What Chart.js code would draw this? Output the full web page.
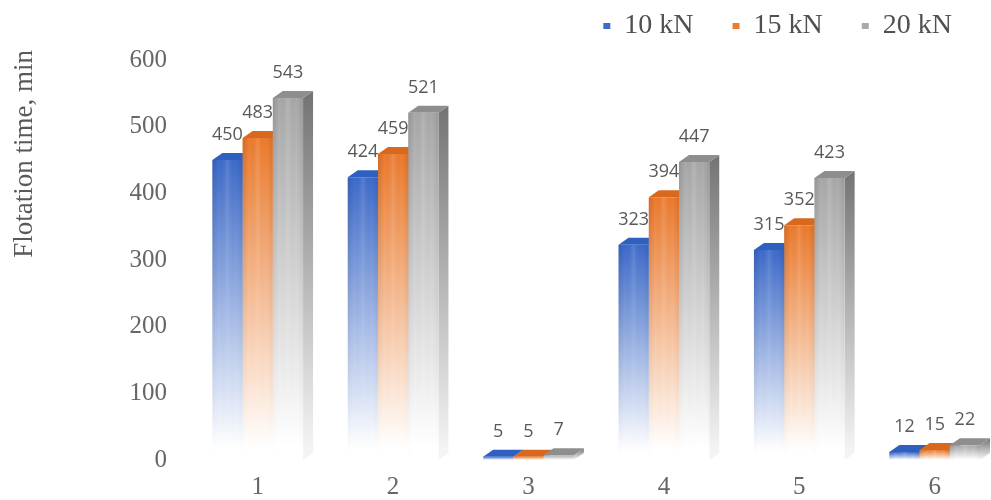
<!DOCTYPE html>
<html>
<head>
<meta charset="utf-8">
<script src="https://cdn.jsdelivr.net/npm/chart.js@4"></script>
<style>
  html, body { margin: 0; padding: 0; background: #ffffff; overflow: hidden; }
</style>
</head>
<body>
<canvas id="chart" width="991" height="500"></canvas>
<script>
// Flotation time per sample for three loads
const categories = [1, 2, 3, 4, 5, 6];
const seriesNames = ['10 kN', '15 kN', '20 kN'];
const load10kN = [450, 424, 5, 323, 315, 12];
const load15kN = [483, 459, 5, 394, 352, 15];
const load20kN = [543, 521, 7, 447, 423, 22];
const yTicks = [0, 100, 200, 300, 400, 500, 600];

// Face colours for the 3D columns
const palettes = [
  { front: '#3d6bcb', side: '#2a4f99', top: '#3060bf', legend: '#4a74c8' },
  { front: '#ee7b2c', side: '#b5561a', top: '#d9681f', legend: '#ef8a48' },
  { front: '#a9a9a9', side: '#737373', top: '#8e8e8e', legend: '#b0b0b0' }
];
const DEPTH_X = 10;
const DEPTH_Y = 7;

function frontFill(pal) {
  return (ctx) => {
    if (ctx.type !== 'data') return pal.legend;
    const chart = ctx.chart;
    const ys = chart.scales.y;
    if (!ys || !chart.chartArea) return pal.front;
    const top = ys.getPixelForValue(ctx.raw.y);
    const base = ys.getPixelForValue(0);
    const g = chart.ctx.createLinearGradient(0, top, 0, base + 0.01);
    g.addColorStop(0, pal.front);
    g.addColorStop(0.96, '#ffffff');
    g.addColorStop(1, '#ffffff');
    return g;
  };
}

const seriesValues = [load10kN, load15kN, load20kN];
const datasets = seriesValues.map((vals, i) => ({
  label: seriesNames[i],
  data: categories.map((c, k) => ({ x: c, y: vals[k] })),
  backgroundColor: frontFill(palettes[i]),
  borderWidth: 0,
  barPercentage: 1.0,
  categoryPercentage: 0.67
}));

// Side and top faces, painted under the column fronts
const columnDepth = {
  id: 'columnDepth',
  beforeDatasetsDraw(chart) {
    const ctx = chart.ctx;
    const base = chart.scales.y.getPixelForValue(0);
    ctx.save();
    chart.data.datasets.forEach((ds, di) => {
      const pal = palettes[di];
      chart.getDatasetMeta(di).data.forEach((el) => {
        const p = el.getProps(['x', 'y', 'base', 'width'], true);
        const l = p.x - p.width / 2, r = p.x + p.width / 2, t = p.y;
        // right side
        const sg = ctx.createLinearGradient(0, t - DEPTH_Y, 0, base);
        sg.addColorStop(0, pal.side);
        sg.addColorStop(0.97, '#f4f4f4');
        ctx.fillStyle = sg;
        ctx.beginPath();
        ctx.moveTo(r, t);
        ctx.lineTo(r + DEPTH_X, t - DEPTH_Y);
        ctx.lineTo(r + DEPTH_X, base - DEPTH_Y);
        ctx.lineTo(r, base);
        ctx.closePath();
        ctx.fill();
        // top
        ctx.fillStyle = pal.top;
        ctx.beginPath();
        ctx.moveTo(l, t);
        ctx.lineTo(l + DEPTH_X, t - DEPTH_Y);
        ctx.lineTo(r + DEPTH_X, t - DEPTH_Y);
        ctx.lineTo(r, t);
        ctx.closePath();
        ctx.fill();
      });
    });
    ctx.restore();
  },
  afterDatasetsDraw(chart) {
    const ctx = chart.ctx;
    const base = chart.scales.y.getPixelForValue(0);
    ctx.save();
    // soft rounded shading across each column front, fading toward the floor
    chart.data.datasets.forEach((ds, di) => {
      chart.getDatasetMeta(di).data.forEach((el) => {
        const p = el.getProps(['x', 'y', 'width'], true);
        const l = p.x - p.width / 2, w = p.width, t = p.y;
        const h = base - t;
        if (h < 6) return;
        const hg = ctx.createLinearGradient(l, 0, l + w, 0);
        hg.addColorStop(0, 'rgba(0,0,0,0.13)');
        hg.addColorStop(0.22, 'rgba(0,0,0,0)');
        hg.addColorStop(0.5, 'rgba(255,255,255,0.12)');
        hg.addColorStop(0.78, 'rgba(0,0,0,0)');
        hg.addColorStop(1, 'rgba(0,0,0,0.10)');
        ctx.fillStyle = hg;
        const step = 3;
        for (let yy = t; yy < base; yy += step) {
          ctx.globalAlpha = Math.max(0, 1 - (yy - t) / h);
          ctx.fillRect(l, yy, w, Math.min(step, base - yy));
        }
      });
    });
    ctx.globalAlpha = 1;
    ctx.font = '18px "Open Sans"';
    ctx.fillStyle = '#595959';
    ctx.textAlign = 'center';
    ctx.textBaseline = 'middle';
    chart.data.datasets.forEach((ds, di) => {
      chart.getDatasetMeta(di).data.forEach((el, k) => {
        const p = el.getProps(['x', 'y'], true);
        ctx.fillText(String(ds.data[k].y), p.x, p.y - 25);
      });
    });
    ctx.restore();
  }
};

// Raise the legend row toward the top edge
const legendLift = {
  id: 'legendLift',
  afterLayout(chart) {
    const lg = chart.legend;
    if (lg) { lg.top -= 27; }
  }
};

new Chart(document.getElementById('chart'), {
  type: 'bar',
  data: { datasets },
  plugins: [columnDepth, legendLift],
  options: {
    responsive: false,
    animation: false,
    layout: { padding: 0 },
    plugins: {
      legend: {
        position: 'top',
        align: 'end',
        maxHeight: 50,
        sort: (a, b) => a.datasetIndex - b.datasetIndex,
        labels: {
          boxWidth: 7,
          boxHeight: 6,
          padding: 39,
          color: '#505050',
          font: { family: 'Liberation Serif', size: 28 }
        }
      },
      tooltip: { enabled: false }
    },
    scales: {
      x: {
        type: 'linear',
        min: 0.5,
        max: 6.416,
        offset: false,
        grid: { display: false, drawTicks: false },
        border: { display: false },
        afterBuildTicks: (s) => { s.ticks = categories.map((v) => ({ value: v })); },
        afterFit: (s) => { s.height = 40; },
        ticks: {
          padding: 12,
          color: '#666666',
          font: { family: 'Liberation Serif', size: 25 }
        }
      },
      y: {
        min: 0,
        max: 615,
        grid: { display: false, drawTicks: false },
        border: { display: false },
        afterBuildTicks: (s) => { s.ticks = yTicks.map((v) => ({ value: v })); },
        afterFit: (s) => { s.width = 190; },
        ticks: {
          padding: 23,
          color: '#666666',
          font: { family: 'Liberation Serif', size: 25 }
        },
        title: {
          display: true,
          text: 'Flotation time, min',
          align: 'end',
          color: '#595959',
          padding: { top: 9, bottom: 0 },
          font: { family: 'Liberation Serif', size: 27 }
        }
      }
    }
  }
});
</script>
</body>
</html>
